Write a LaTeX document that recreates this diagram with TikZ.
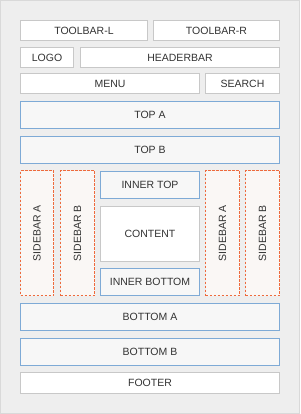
\documentclass[tikz,border=0pt]{standalone}
\usepackage{fontspec}
\setmainfont{Liberation Sans}
\definecolor{bgc}{HTML}{EEEEEE}
\definecolor{framec}{HTML}{D9D9D9}
\definecolor{grayb}{HTML}{C8C8C8}
\definecolor{blueb}{HTML}{7EAAD6}
\definecolor{bluef}{HTML}{F7F7F7}
\definecolor{orangeb}{HTML}{EE6A3C}
\definecolor{orangef}{HTML}{FAF7F5}
\definecolor{txt}{HTML}{333333}
\begin{document}
\begin{tikzpicture}[x=1pt,y=-1pt,
  base/.style={rectangle,line width=1pt,inner sep=0pt,outer sep=0pt,text=txt,font=\fontsize{10.5}{12}\selectfont},
  graybox/.style={base,draw=grayb,fill=white},
  bluebox/.style={base,draw=blueb,fill=bluef},
  sidebox/.style={base,draw=orangeb,fill=orangef,dashed,dash pattern=on 2.5pt off 1.5pt}]
\useasboundingbox (0,0) rectangle (300,414);
\fill[bgc] (0,0) rectangle (300,414);
\draw[framec,line width=1pt] (0.5,0.5) rectangle (299.5,413.5);
\newcommand{\bx}[7]{%
  \pgfmathsetmacro{\cx}{(#2+#4)/2}\pgfmathsetmacro{\cy}{(#3+#5)/2}%
  \pgfmathsetmacro{\ww}{#4-#2-1}\pgfmathsetmacro{\hh}{#5-#3-1}%
  \node[#6,minimum width=\ww pt,minimum height=\hh pt] (#1) at (\cx,\cy) {#7};}
\bx{tbl}{20}{20}{148}{41}{graybox}{TOOLBAR-L}
\bx{tbr}{153}{20}{280}{41}{graybox}{TOOLBAR-R}
\bx{logo}{20}{47}{74}{68}{graybox}{LOGO}
\bx{hdr}{80}{47}{280}{68}{graybox}{HEADERBAR}
\bx{menu}{20}{73}{200}{94}{graybox}{MENU}
\bx{search}{205}{73}{280}{94}{graybox}{SEARCH}
\bx{topa}{20}{101}{280}{129}{bluebox}{TOP A}
\bx{topb}{20}{136}{280}{164}{bluebox}{TOP B}
\bx{sla}{20}{170}{54}{296}{sidebox}{}
\bx{slb}{60}{170}{95}{296}{sidebox}{}
\bx{sra}{205}{170}{240}{296}{sidebox}{}
\bx{srb}{245}{170}{280}{296}{sidebox}{}
\node[base,rotate=90] at (sla.center) {SIDEBAR A};
\node[base,rotate=90] at (slb.center) {SIDEBAR B};
\node[base,rotate=90] at (sra.center) {SIDEBAR A};
\node[base,rotate=90] at (srb.center) {SIDEBAR B};
\bx{itop}{100}{171}{200}{199}{bluebox}{INNER TOP}
\bx{content}{100}{206}{200}{262}{graybox}{CONTENT}
\bx{ibot}{100}{268}{200}{296}{bluebox}{INNER BOTTOM}
\bx{bota}{20}{303}{280}{331}{bluebox}{BOTTOM A}
\bx{botb}{20}{338}{280}{366}{bluebox}{BOTTOM B}
\bx{footer}{20}{372}{280}{394}{graybox}{FOOTER}
\end{tikzpicture}
\end{document}
